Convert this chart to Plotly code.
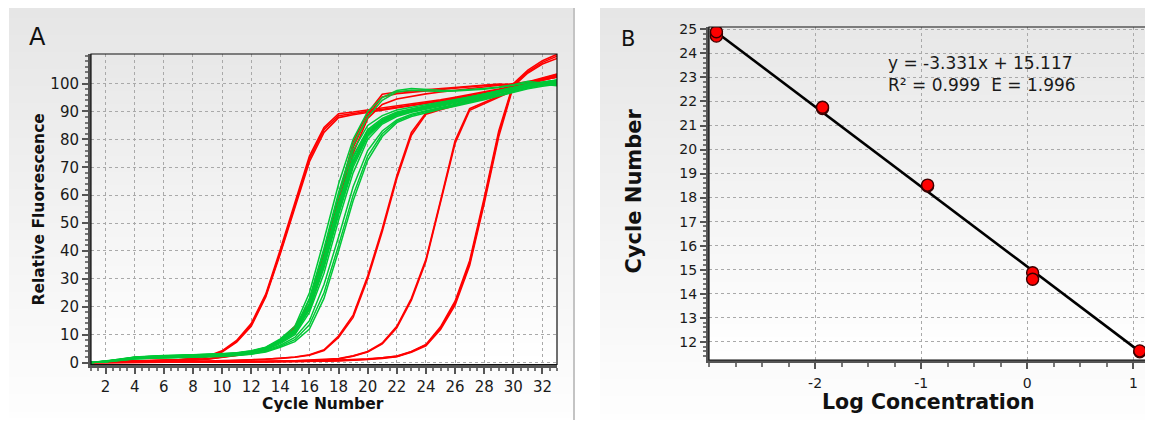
import base64, struct, zlib
import plotly.graph_objects as go

# The page body has an 8px margin, so the figure is laid out 8px in from the window edge.
OFF = 8
W, H = 1153 - OFF, 426 - OFF

# ---------------- Panel A data (cycle vs relative fluorescence) ----------------
cycles = list(range(1, 34))

red_1a = [0.2,0.3,0.4,0.5,0.6,0.8,1.0,1.4,2.2,4.0,7.6,13.5,24,39.5,56,73,83.5,88.5,89.3,90.0,90.8,91.6,92.3,93.0,93.8,94.7,95.6,96.6,97.6,98.8,100.2,101.6,102.8]
red_1b = [0.1,0.2,0.3,0.4,0.5,0.7,0.9,1.3,2.1,3.8,7.3,13.0,23.5,39,55.5,72,82.5,87.8,88.8,89.6,90.4,91.2,92.0,92.8,93.6,94.5,95.4,96.4,97.4,98.6,100.0,101.3,102.4]
red_1c = [0.2,0.3,0.4,0.5,0.6,0.8,1.0,1.5,2.3,4.2,7.9,14.0,24.5,40.5,57,74,84.3,89.2,89.8,90.5,91.2,92.0,92.7,93.4,94.2,95.1,96.0,97.0,98.0,99.2,100.6,102.0,103.4]
red_2a = [0.1,0.2,0.3,0.4,0.5,0.6,0.8,1.0,1.4,2.0,2.7,3.6,5.2,8.0,13.0,21,39,59,79,89.5,96.2,97.0,97.4,97.8,98.2,98.6,99.0,99.5,99.8,99.6,99.6,100.0,100.5]
red_2b = [0.1,0.2,0.3,0.3,0.4,0.5,0.7,0.9,1.3,1.9,2.6,3.5,5.0,7.7,12.5,20,37,57,77,88.5,95.2,96.4,96.9,97.4,97.9,98.4,98.9,99.3,99.6,99.4,99.5,99.9,100.3]
red_2c = [0.1,0.2,0.2,0.3,0.4,0.5,0.6,0.8,1.2,1.8,2.5,3.3,4.8,7.4,12.0,19,35,55,75,87.5,92.5,94.5,95.5,96.3,97.0,97.6,98.2,98.8,99.3,99.8,100.6,101.5,102.3]
red_3a = [0.0,0.1,0.1,0.2,0.2,0.3,0.3,0.4,0.5,0.6,0.8,1.0,1.2,1.6,2.0,2.8,4.6,9.5,17,31,48,67,82.5,89.5,91.0,92.4,93.8,95.3,96.9,98.6,100.3,101.8,103.2]
red_3b = [0.0,0.0,0.1,0.1,0.2,0.2,0.3,0.3,0.4,0.5,0.7,0.9,1.1,1.5,1.9,2.6,4.3,9.0,16.2,30,47,66,81.5,89.0,90.6,92.0,93.5,95.0,96.6,98.3,100.0,101.5,102.8]
red_4a = [0.0,0.0,0.0,0.1,0.1,0.1,0.2,0.2,0.2,0.3,0.3,0.4,0.4,0.5,0.6,0.8,1.0,1.4,2.4,4.0,7.0,13.0,23,37,58,79.5,91.0,93.2,95.4,97.8,99.9,101.5,102.7]
red_4b = [0.0,0.0,0.0,0.0,0.1,0.1,0.1,0.2,0.2,0.2,0.3,0.3,0.4,0.5,0.6,0.7,0.9,1.3,2.3,3.8,6.7,12.5,22.4,36.3,57,78.5,90.4,92.8,95.0,97.5,99.6,101.2,102.4]
red_5a = [0.0,0.0,0.0,0.0,0.0,0.1,0.1,0.1,0.1,0.2,0.2,0.2,0.3,0.3,0.4,0.5,0.6,0.7,0.9,1.2,1.6,2.2,3.9,6.3,12.3,21.3,35.6,58,82,99.5,104.3,107.6,109.8]
red_5b = [0.0,0.0,0.0,0.0,0.0,0.0,0.1,0.1,0.1,0.1,0.2,0.2,0.2,0.3,0.3,0.4,0.5,0.6,0.8,1.1,1.5,2.1,3.7,6.0,11.8,20.6,34.8,57,81,99.0,103.8,107.0,109.0]
red_5c = [0.0,0.0,0.0,0.0,0.0,0.1,0.1,0.1,0.2,0.2,0.2,0.3,0.3,0.4,0.4,0.5,0.6,0.8,1.0,1.3,1.7,2.3,4.0,6.5,12.8,22.0,36.5,59,83,100.0,104.8,108.2,110.5]

green_01 = [0,0.5,1.2,2.0,2.3,2.5,2.6,2.7,2.9,3.1,3.5,4.2,5.5,8.5,13,25,44,64,80,90,95,97.5,98.2,97.8,97.6,97.5,97.8,98.2,98.8,99.6,100.8,100.2,99.5]
green_02 = [0,0.4,1.0,1.8,2.2,2.4,2.5,2.6,2.8,3.0,3.3,4.0,5.2,8,12,23,41,61,78,88,94,97,97.6,97.3,97.2,97.3,97.6,98.0,98.6,99.4,100.3,99.8,99.2]
green_03 = [0,0.3,0.9,1.6,1.9,2.1,2.2,2.3,2.5,2.7,3.1,3.8,5.0,7.5,11.5,21,38,57,74,83.5,87.5,89.8,91,92,93,94,95,96.2,97.4,98.6,99.8,100.6,101.3]
green_04 = [0,0.4,1.1,1.7,2.0,2.2,2.3,2.4,2.6,2.8,3.2,3.9,5.2,7.8,11,20,36,55,72,82,86.5,89,90.5,91.6,92.6,93.6,94.7,95.9,97.1,98.3,99.5,100.3,101]
green_05 = [0,0.3,1.0,1.6,1.9,2.0,2.1,2.2,2.4,2.6,3.0,3.7,4.8,7.2,10.5,19,34,53,70,81,86,88.6,90,91.2,92.2,93.2,94.3,95.5,96.8,98.0,99.2,100,100.8]
green_06 = [0,0.5,1.3,1.9,2.2,2.4,2.5,2.6,2.8,3.0,3.4,4.1,5.4,7.9,11.2,20.5,37,56,72.5,82.5,86.8,89.3,90.7,91.8,92.8,93.8,94.9,96,97.2,98.4,99.6,100.4,101.2]
green_07 = [0,0.3,0.9,1.5,1.8,1.9,2.0,2.1,2.3,2.5,2.9,3.5,4.6,6.8,10,18,32,51,68,80,85.5,88.2,89.7,90.9,91.9,92.9,94,95.2,96.5,97.8,99,99.9,100.6]
green_08 = [0,0.4,1.1,1.8,2.1,2.3,2.4,2.5,2.7,2.9,3.3,4.0,5.1,7.4,10.8,19.5,35,54,71,81.5,86.2,88.8,90.2,91.4,92.4,93.4,94.5,95.7,97,98.2,99.4,100.2,100.9]
green_09 = [0,0.3,0.8,1.4,1.7,1.8,1.9,2.0,2.2,2.4,2.7,3.3,4.3,6.2,9,15,28,45,63,76,83,87,89,90.3,91.4,92.5,93.6,94.8,96.1,97.4,98.7,99.6,100.3]
green_10 = [0,0.3,0.8,1.4,1.6,1.7,1.8,1.9,2.1,2.3,2.6,3.1,4.0,5.8,8.2,13.5,25,42,60,74,82,86.5,88.6,90,91.1,92.2,93.3,94.5,95.8,97.1,98.4,99.4,100.1]
green_11 = [0,0.2,0.7,1.3,1.5,1.6,1.7,1.8,2.0,2.2,2.5,3.0,3.8,5.5,7.5,12,23,40,58,72.5,81,86,88.2,89.6,90.8,91.9,93,94.2,95.5,96.8,98.1,99,99.8]
green_12 = [0,0.4,1.0,1.7,2.0,2.2,2.3,2.4,2.6,2.8,3.2,3.9,5.0,7.6,11.3,21,37.5,57,73.5,83,87,89.5,90.8,91.9,92.9,93.9,95,96.1,97.3,98.5,99.7,100.5,101.2]
green_13 = [0,0.4,1.1,1.9,2.2,2.3,2.4,2.5,2.7,2.9,3.3,4.0,5.3,8.1,12,22.5,40,59.5,76,85,88.5,90.5,91.5,92.4,93.3,94.2,95.2,96.3,97.4,98.6,99.8,100.3,100.8]
green_14 = [0,0.3,1.0,1.6,1.9,2.1,2.2,2.3,2.5,2.7,3.1,3.8,4.9,7.3,10.6,19.8,35.5,54.5,71.5,81.8,86.3,88.9,90.3,91.5,92.5,93.5,94.6,95.8,97,98.2,99.4,100.2,100.9]

red_series = [red_1a, red_1b, red_1c, red_2a, red_2b, red_2c, red_3a, red_3b,
              red_4a, red_4b, red_5a, red_5b, red_5c]
green_series = [green_01, green_02, green_03, green_04, green_05, green_06, green_07,
                green_08, green_09, green_10, green_11, green_12, green_13, green_14]

a_xticks = [2, 4, 6, 8, 10, 12, 14, 16, 18, 20, 22, 24, 26, 28, 30, 32]
a_yticks = [0, 10, 20, 30, 40, 50, 60, 70, 80, 90, 100]

# ---------------- Panel B data (standard curve) ----------------
log_conc = [-2.93, -2.93, -2.93, -1.93, -1.93, -0.94, -0.94, 0.05, 0.05, 1.06, 1.06]
ct_values = [24.83, 24.72, 24.9, 21.71, 21.76, 18.48, 18.52, 14.87, 14.6, 11.58, 11.62]
fit_x = [-2.93, 1.06]
fit_y = [24.88, 11.59]
b_xticks = [-2, -1, 0, 1]
b_xticklabels = ['-2', '-1', '0', '1']
b_yticks = [12, 13, 14, 15, 16, 17, 18, 19, 20, 21, 22, 23, 24, 25]
eq_line1 = "y = -3.331x + 15.117"
eq_line2 = "R² = 0.999 \u00a0E = 1.996"

# ---------------- helpers ----------------
def grad_png(top, bottom, n=96):
    rows = b''.join(b'\x00' + bytes([int(round(top + (bottom - top) * i / (n - 1)))]) for i in range(n))
    def chunk(t, d):
        c = struct.pack('>I', len(d)) + t + d
        return c + struct.pack('>I', zlib.crc32(t + d) & 0xffffffff)
    ihdr = struct.pack('>IIBBBBB', 1, n, 8, 0, 0, 0, 0)
    png = b'\x89PNG\r\n\x1a\n' + chunk(b'IHDR', ihdr) + chunk(b'IDAT', zlib.compress(rows)) + chunk(b'IEND', b'')
    return 'data:image/png;base64,' + base64.b64encode(png).decode()

def px(x):
    return (x - OFF) / W

def py(y):
    return 1 - (y - OFF) / H

def bg_image(x0, y0, x1, y1, top, bottom):
    return dict(source=grad_png(top, bottom), xref='paper', yref='paper',
                x=px(x0), y=py(y0), sizex=(x1 - x0) / W, sizey=(y1 - y0) / H,
                xanchor='left', yanchor='top', sizing='stretch', layer='below')

def label(text, x, y, size, angle=0, xanchor='center', color='#111'):
    return dict(text=text, x=px(x), y=py(y), xref='paper', yref='paper', showarrow=False,
                xanchor=xanchor, yanchor='middle', textangle=angle,
                font=dict(family=FONT, size=size, color=color))

FONT = 'DejaVu Sans'
GRID = '#a9a9a9'
AXC = '#555555'

A_L, A_R, A_T, A_B = 91, 557, 54, 364.5
B_L, B_R, B_T, B_B = 709, 1147, 27, 360

fig = go.Figure()

for s in red_series:
    fig.add_trace(go.Scatter(x=cycles, y=s, mode='lines', xaxis='x', yaxis='y',
                             line=dict(color='#ff0000', width=1.6), showlegend=False, hoverinfo='skip'))
for s in green_series:
    fig.add_trace(go.Scatter(x=cycles, y=s, mode='lines', xaxis='x', yaxis='y',
                             line=dict(color='#00c837', width=1.5), showlegend=False, hoverinfo='skip'))

fig.add_trace(go.Scatter(x=fit_x, y=fit_y, mode='lines', xaxis='x2', yaxis='y2',
                         line=dict(color='#000000', width=2.6), showlegend=False, hoverinfo='skip'))
fig.add_trace(go.Scatter(x=log_conc, y=ct_values, mode='markers', xaxis='x2', yaxis='y2',
                         marker=dict(size=12, color='#ff0000', line=dict(color='#3a0000', width=1.4)),
                         showlegend=False, hoverinfo='skip'))

tickfont = dict(family=FONT, size=15, color='#1a1a1a')
tickfontB = dict(family=FONT, size=14, color='#1a1a1a')

common = dict(showgrid=True, gridcolor=GRID, griddash='dot', gridwidth=1, zeroline=False,
              showline=True, linecolor=AXC, linewidth=3, ticks='outside', tickcolor=AXC,
              tickwidth=1.5, ticklen=6, fixedrange=True, automargin=False)

fig.update_layout(
    width=W, height=H, autosize=False,
    margin=dict(l=0, r=0, t=0, b=0, pad=0),
    paper_bgcolor='white', plot_bgcolor='rgba(0,0,0,0)',
    xaxis=dict(domain=[px(A_L), px(A_R)], range=[1, 33], tickmode='array', tickvals=a_xticks,
               tickfont=tickfont, anchor='y',
               minor=dict(tick0=0, dtick=0.5, ticks='outside', ticklen=3, tickcolor='#777', showgrid=False),
               **common),
    yaxis=dict(domain=[py(A_B), py(A_T)], range=[-0.7, 110.6], tickmode='array', tickvals=a_yticks,
               tickfont=tickfont, anchor='x',
               minor=dict(tick0=0, dtick=2, ticks='outside', ticklen=3, tickcolor='#777', showgrid=False),
               **common),
    xaxis2=dict(domain=[px(B_L), px(B_R)], range=[-3.0, 1.128], tickmode='array', tickvals=b_xticks,
                ticktext=b_xticklabels, tickfont=tickfontB, anchor='y2', ticklabelstandoff=2,
                minor=dict(tick0=0, dtick=0.25, ticks='outside', ticklen=4, tickcolor='#777', showgrid=False),
                **common),
    yaxis2=dict(domain=[py(B_B), py(B_T)], range=[11.24, 25.1], tickmode='array', tickvals=b_yticks,
                tickfont=tickfontB, anchor='x2',
                minor=dict(tick0=0, dtick=0.2, ticks='outside', ticklen=3, tickcolor='#777', showgrid=False),
                **common),
    images=[
        bg_image(9, 7, 573, 418, 230, 254),
        bg_image(600, 7, 1153, 420, 230, 254),
        bg_image(A_L, A_T, A_R, A_B, 232, 255),
        bg_image(B_L, B_T, B_R, B_B, 232, 255),
    ],
    shapes=[
        dict(type='rect', xref='paper', yref='paper', x0=px(A_L), x1=px(A_R), y0=py(A_B), y1=py(A_T),
             line=dict(color='#111', width=1.2), layer='above'),
        dict(type='rect', xref='paper', yref='paper', x0=px(B_L), x1=px(B_R), y0=py(B_B), y1=py(B_T),
             line=dict(color='#111', width=1.2), layer='above'),
        dict(type='line', xref='paper', yref='paper', x0=px(574), x1=px(574), y0=py(7), y1=py(420),
             line=dict(color='#c4c4c4', width=2)),
    ],
    annotations=[
        label('A', 37.5, 37, 24),
        label('B', 627.5, 39, 21),
        label('<b>Relative Fluorescence</b>', 39, 209.5, 15.5, angle=-90),
        label('<b>Cycle Number</b>', 322.5, 404, 15.5),
        label('<b>Cycle Number</b>', 633, 191.5, 21, angle=-90),
        label('<b>Log Concentration</b>', 928, 402, 20.5),
        label(eq_line1, 886, 63, 17, xanchor='left', color='#1a1a1a'),
        label(eq_line2, 886, 85, 17, xanchor='left', color='#1a1a1a'),
    ],
)

fig.write_html('out.html')
